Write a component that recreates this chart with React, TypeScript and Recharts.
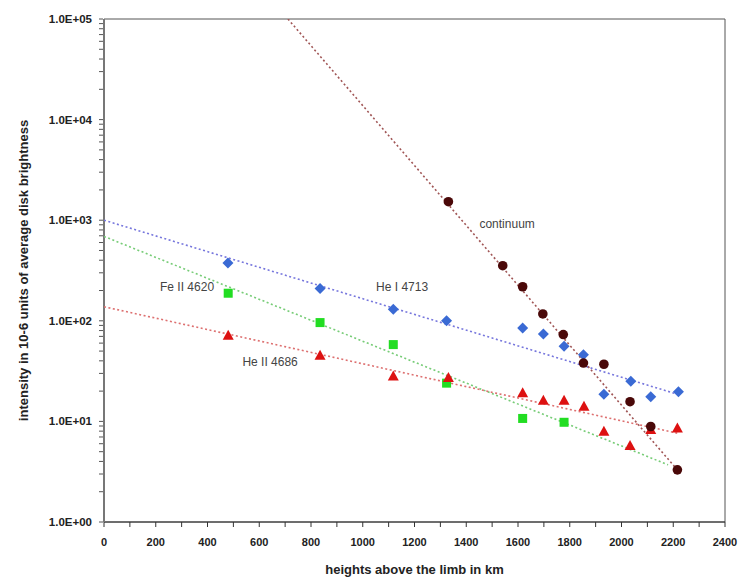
import React from 'react';
import {
  ScatterChart,
  Scatter,
  XAxis,
  YAxis,
  ReferenceArea,
} from 'recharts';

// observed points (height km, intensity)
const heI4713X = [479, 835, 1118, 1324, 1618, 1698, 1778, 1853, 1932, 2036, 2113, 2220];
const heI4713Y = [376, 210, 130, 100, 85, 74, 56, 46, 18.6, 25, 17.6, 19.7];

const feII4620X = [480, 835, 1118, 1324, 1618, 1778];
const feII4620Y = [188, 96, 58, 24, 10.7, 9.8];

const heII4686X = [480, 835, 1118, 1331, 1618, 1698, 1778, 1855, 1932, 2033, 2113, 2216];
const heII4686Y = [71, 45, 28, 27, 19, 16, 16, 14, 7.9, 5.7, 8.2, 8.5];

const continuumX = [1331, 1541, 1618, 1696, 1775, 1853, 1932, 2033, 2113, 2216];
const continuumY = [1528, 353, 218, 117, 73, 38, 37, 15.7, 8.9, 3.3];

// exponential trendlines, endpoints
const heI4713Trend = [{ x: 0, y: 1000 }, { x: 2220, y: 18.5 }];
const feII4620Trend = [{ x: 0, y: 690 }, { x: 2180, y: 3.7 }];
const heII4686Trend = [{ x: 0, y: 138 }, { x: 2220, y: 7.6 }];
const continuumTrend = [{ x: 711, y: 100000 }, { x: 2216, y: 3.3 }];

// in-plot labels
const lineLabels = [
  { x: 1558, y: 917, text: 'continuum' },
  { x: 1152, y: 217, text: 'He I 4713' },
  { x: 321, y: 217, text: 'Fe II 4620' },
  { x: 642, y: 39, text: 'He II 4686' },
];

const xTicks = Array.from({ length: 25 }, (_, i) => i * 100);
const yDecades = [1, 10, 100, 1000, 10000, 100000];
const yTicks: number[] = [];
yDecades.forEach((d, i) => {
  yTicks.push(d);
  if (i < yDecades.length - 1) for (let m = 2; m <= 9; m++) yTicks.push(d * m);
});

const zip = (xs: number[], ys: number[]) => xs.map((x, i) => ({ x, y: ys[i] }));

const FONT = '"Liberation Sans", Arial, sans-serif';

const Diamond = (p: any) => {
  const { cx, cy } = p;
  const r = 5.5;
  return <path d={`M${cx},${cy - r}L${cx + r},${cy}L${cx},${cy + r}L${cx - r},${cy}Z`} fill="#3a6ad4" />;
};
const Square = (p: any) => <rect x={p.cx - 4.5} y={p.cy - 4.5} width={9} height={9} fill="#22dd22" />;
const Triangle = (p: any) => {
  const { cx, cy } = p;
  return <path d={`M${cx},${cy - 6}L${cx + 5.5},${cy + 4}L${cx - 5.5},${cy + 4}Z`} fill="#dd1111" />;
};
const Circle = (p: any) => <circle cx={p.cx} cy={p.cy} r={4.8} fill="#4a0808" />;
const NoDot = () => null;
const TextMark = (p: any) => (
  <text x={p.cx} y={p.cy} textAnchor="middle" dominantBaseline="central" fontSize={12} fill="#444" fontFamily={FONT}>
    {p.payload.text}
  </text>
);

const fmtExp = (v: number) => {
  const e = Math.round(Math.log10(v));
  return `1.0E+${String(e).padStart(2, '0')}`;
};

// tickSize 0, so the tick anchor sits on the axis line
const YTick = (p: any) => {
  const v = p.payload.value;
  const major = yDecades.includes(v);
  return (
    <g>
      <line x1={p.x - 3} x2={p.x + 1} y1={p.y} y2={p.y} stroke="#555" />
      {major && (
        <text x={p.x - 10} y={p.y} textAnchor="end" dominantBaseline="central" fontSize={11.5} fontWeight="bold" fill="#222" fontFamily={FONT}>
          {fmtExp(v)}
        </text>
      )}
    </g>
  );
};

const XTick = (p: any) => {
  const v = p.payload.value;
  return (
    <g>
      <line x1={p.x} x2={p.x} y1={p.y - 2} y2={p.y + 3} stroke="#333" />
      {v % 200 === 0 && (
        <text x={p.x} y={p.y + 22} textAnchor="middle" fontSize={11} fontWeight="bold" fill="#222" fontFamily={FONT}>
          {v}
        </text>
      )}
    </g>
  );
};

const dotted = (color: string) => ({ stroke: color, strokeWidth: 1.6, strokeDasharray: '2 2.5' });

export default function App() {
  return (
    <div style={{ position: 'absolute', left: 0, top: 0, width: 742, height: 578, background: '#fff' }}>
      <ScatterChart width={742} height={578} margin={{ top: 19, right: 17, bottom: 26, left: 40 }}>
        <XAxis
          type="number"
          dataKey="x"
          domain={[0, 2400]}
          ticks={xTicks}
          interval={0}
          tick={<XTick />}
          tickSize={0}
          tickLine={false}
          height={30}
          axisLine={{ stroke: '#333' }}
          allowDataOverflow
          label={{ value: 'heights above the limb in km', position: 'insideBottom', offset: -22, fontSize: 13, fontWeight: 'bold', fill: '#222', fontFamily: FONT }}
        />
        <YAxis
          type="number"
          dataKey="y"
          scale="log"
          domain={[1, 100000]}
          ticks={yTicks}
          interval={0}
          tick={<YTick />}
          tickSize={0}
          tickLine={false}
          width={64}
          axisLine={{ stroke: '#777', strokeWidth: 2 }}
          allowDataOverflow
          label={{ value: 'intensity in 10-6 units of average disk brightness', angle: -90, position: 'insideLeft', offset: -17, fontSize: 13, fontWeight: 'bold', fill: '#222', fontFamily: FONT, style: { textAnchor: 'middle' } }}
        />
        <ReferenceArea x1={0} x2={2400} y1={1} y2={100000} fill="none" stroke="#555" strokeWidth={1} />

        <Scatter data={heI4713Trend} line={dotted('#7777dd')} shape={<NoDot />} isAnimationActive={false} />
        <Scatter data={feII4620Trend} line={dotted('#77cc77')} shape={<NoDot />} isAnimationActive={false} />
        <Scatter data={heII4686Trend} line={dotted('#dd7070')} shape={<NoDot />} isAnimationActive={false} />
        <Scatter data={continuumTrend} line={dotted('#a05555')} shape={<NoDot />} isAnimationActive={false} />

        <Scatter data={zip(heI4713X, heI4713Y)} shape={<Diamond />} isAnimationActive={false} />
        <Scatter data={zip(feII4620X, feII4620Y)} shape={<Square />} isAnimationActive={false} />
        <Scatter data={zip(heII4686X, heII4686Y)} shape={<Triangle />} isAnimationActive={false} />
        <Scatter data={zip(continuumX, continuumY)} shape={<Circle />} isAnimationActive={false} />

        <Scatter data={lineLabels} shape={<TextMark />} isAnimationActive={false} />
      </ScatterChart>
    </div>
  );
}
